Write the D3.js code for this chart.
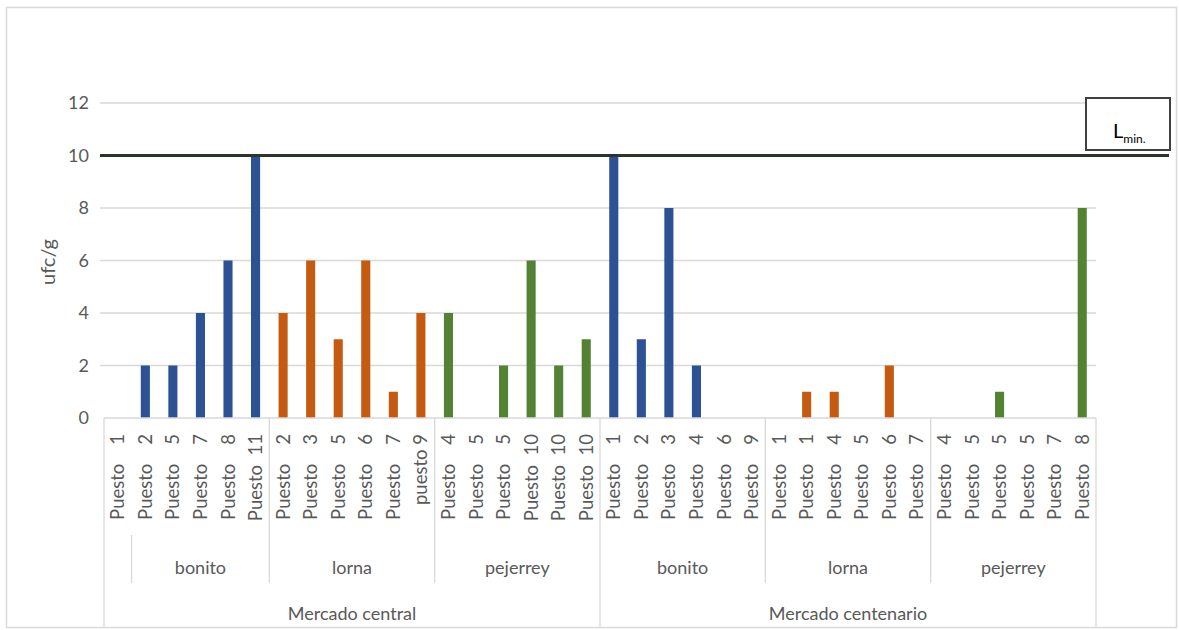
<!DOCTYPE html>
<html>
<head>
<meta charset="utf-8">
<script src="https://cdn.jsdelivr.net/npm/d3@7"></script>
<style>
  html, body { margin: 0; padding: 0; background: #fff; }
  svg { display: block; font-family: Lato, "Open Sans", sans-serif; }
  .lbl { white-space: pre; }
</style>
</head>
<body>
<svg id="chart" width="1179" height="630"></svg>
<script>
// Puestos (stalls) sampled in each market, by species
const puestos = [
  "Puesto    1", "Puesto    2", "Puesto    5", "Puesto    7", "Puesto    8", "Puesto  11",
  "Puesto    2", "Puesto    3", "Puesto    5", "Puesto    6", "Puesto    7", "puesto 9",
  "Puesto    4", "Puesto    5", "Puesto    5", "Puesto  10", "Puesto  10", "Puesto  10",
  "Puesto    1", "Puesto    2", "Puesto    3", "Puesto    4", "Puesto    6", "Puesto    9",
  "Puesto    1", "Puesto    1", "Puesto    4", "Puesto    5", "Puesto    6", "Puesto    7",
  "Puesto    4", "Puesto    5", "Puesto    5", "Puesto    5", "Puesto    7", "Puesto    8"
];
// species of each stall (sets the bar colour)
const especies = [
  "bonito", "bonito", "bonito", "bonito", "bonito", "bonito",
  "lorna", "lorna", "lorna", "lorna", "lorna", "lorna",
  "pejerrey", "pejerrey", "pejerrey", "pejerrey", "pejerrey", "pejerrey",
  "bonito", "bonito", "bonito", "bonito", "bonito", "bonito",
  "lorna", "lorna", "lorna", "lorna", "lorna", "lorna",
  "pejerrey", "pejerrey", "pejerrey", "pejerrey", "pejerrey", "pejerrey"
];
// counts in ufc/g
const ufc = [
  0, 2, 2, 4, 6, 10,
  4, 6, 3, 6, 1, 4,
  4, 0, 2, 6, 2, 3,
  10, 3, 8, 2, 0, 0,
  0, 1, 1, 0, 2, 0,
  0, 0, 1, 0, 0, 8
];
// second-level category groups (label, first index)
const subgrupos = ["", "bonito", "lorna", "pejerrey", "bonito", "lorna", "pejerrey"];
const subgrupoInicio = [0, 1, 6, 12, 18, 24, 30];
// third-level category groups
const mercados = ["Mercado central", "Mercado centenario"];
const mercadoInicio = [0, 18];
const yTicks = [0, 2, 4, 6, 8, 10, 12];
const limite = 10;
const colores = { bonito: "#2D5193", lorna: "#C55A11", pejerrey: "#548235" };

const svg = d3.select("#chart");
const n = puestos.length;

const x = d3.scaleBand().domain(d3.range(n)).range([104, 1096]).paddingInner(0.67).paddingOuter(0.335);
const xs = d3.scaleBand().domain(d3.range(n)).range([104, 1096]); // slots for separators
const y = d3.scaleLinear().domain([0, 12]).range([418, 103]);

// chart frame
svg.append("rect").attr("x", 6.5).attr("y", 7.5).attr("width", 1170).attr("height", 620)
  .attr("fill", "#fff").attr("stroke", "#d9d9d9").attr("stroke-width", 1.5);

// horizontal gridlines
svg.append("g").selectAll("line").data(yTicks.filter(t => t > 0)).join("line")
  .attr("x1", 100).attr("x2", 1096)
  .attr("y1", d => y(d)).attr("y2", d => y(d))
  .attr("stroke", "#d9d9d9").attr("stroke-width", 1.3);

// y axis tick labels
svg.append("g").selectAll("text").data(yTicks).join("text")
  .attr("x", 89).attr("y", d => y(d)).attr("dy", "0.36em")
  .attr("text-anchor", "end").attr("fill", "#595959").attr("font-size", 18)
  .text(d => d);

// y axis title
svg.append("text").attr("transform", "translate(55,262) rotate(-90)")
  .attr("text-anchor", "middle").attr("fill", "#595959").attr("font-size", 20)
  .text("ufc/g");

// bars
svg.append("g").selectAll("rect").data(ufc).join("rect")
  .attr("x", (d, i) => x(i)).attr("width", x.bandwidth())
  .attr("y", d => y(d)).attr("height", d => y(0) - y(d))
  .attr("fill", (d, i) => colores[especies[i]]);

// category axis line
svg.append("line").attr("x1", 104).attr("x2", 1096).attr("y1", y(0)).attr("y2", y(0))
  .attr("stroke", "#d9d9d9").attr("stroke-width", 1.3);

// stall labels (rotated)
svg.append("g").selectAll("text").data(puestos).join("text")
  .attr("class", "lbl")
  .attr("transform", (d, i) => `translate(${xs(i) + xs.bandwidth() / 2 + 6.5},434) rotate(-90)`)
  .attr("text-anchor", "end").attr("fill", "#595959").attr("font-size", 18.5)
  .text(d => d);

// separators between second-level groups
const subBounds = subgrupoInicio.concat([n]);
svg.append("g").selectAll("line").data(subBounds).join("line")
  .attr("x1", d => d === n ? xs.range()[1] : xs(d)).attr("x2", d => d === n ? xs.range()[1] : xs(d))
  .attr("y1", d => d === 1 ? 535 : y(0)).attr("y2", d => mercadoInicio.includes(d) || d === n ? 628 : 583)
  .attr("stroke", "#d9d9d9").attr("stroke-width", 1.3);

// second-level labels
svg.append("g").selectAll("text").data(subgrupos).join("text")
  .attr("x", (d, i) => {
    const a = xs(subgrupoInicio[i]);
    const b = i + 1 < subgrupoInicio.length ? xs(subgrupoInicio[i + 1]) : xs.range()[1];
    return (a + b) / 2;
  })
  .attr("y", 574).attr("text-anchor", "middle").attr("fill", "#595959").attr("font-size", 18)
  .text(d => d);

// market labels
svg.append("g").selectAll("text").data(mercados).join("text")
  .attr("x", (d, i) => {
    const a = xs(mercadoInicio[i]);
    const b = i + 1 < mercadoInicio.length ? xs(mercadoInicio[i + 1]) : xs.range()[1];
    return (a + b) / 2;
  })
  .attr("y", 620).attr("text-anchor", "middle").attr("fill", "#595959").attr("font-size", 18)
  .text(d => d);

// limit line
svg.append("line").attr("x1", 100).attr("x2", 1169)
  .attr("y1", y(limite)).attr("y2", y(limite))
  .attr("stroke", "#2b352b").attr("stroke-width", 3);

// limit label box
svg.append("rect").attr("x", 1086).attr("y", 98).attr("width", 84).attr("height", 52)
  .attr("fill", "#fff").attr("stroke", "#404040").attr("stroke-width", 2);
const lt = svg.append("text").attr("x", 1113).attr("y", 138).attr("fill", "#000").attr("font-size", 20);
lt.append("tspan").text("L");
lt.append("tspan").attr("font-size", 12).attr("dy", 5).text("min.");
</script>
</body>
</html>
